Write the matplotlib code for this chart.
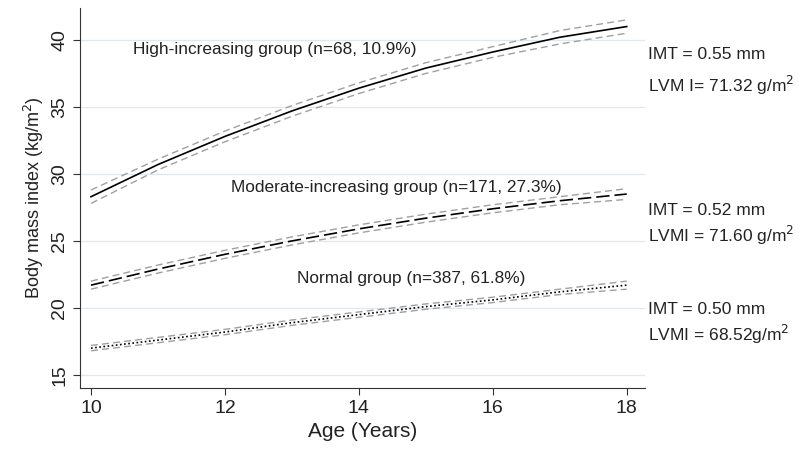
import numpy as np
import matplotlib.pyplot as plt

plt.rcParams['font.family'] = ['Liberation Sans', 'DejaVu Sans']

age = [10, 11, 12, 13, 14, 15, 16, 17, 18]

# Fitted trajectories
high = [28.3, 30.7, 32.8, 34.7, 36.4, 37.9, 39.1, 40.2, 41.0]
high_lo = [27.8, 30.3, 32.4, 34.3, 36.0, 37.5, 38.7, 39.7, 40.5]
high_hi = [28.8, 31.1, 33.2, 35.1, 36.8, 38.3, 39.5, 40.7, 41.5]

moderate = [21.7, 22.9, 24.0, 25.0, 25.9, 26.7, 27.4, 28.0, 28.5]
moderate_lo = [21.4, 22.6, 23.7, 24.7, 25.6, 26.4, 27.1, 27.7, 28.1]
moderate_hi = [22.0, 23.2, 24.3, 25.3, 26.2, 27.0, 27.7, 28.3, 28.9]

normal = [17.0, 17.6, 18.2, 18.9, 19.5, 20.1, 20.6, 21.2, 21.7]
normal_lo = [16.8, 17.4, 18.0, 18.7, 19.3, 19.9, 20.4, 21.0, 21.4]
normal_hi = [17.2, 17.8, 18.4, 19.1, 19.7, 20.3, 20.8, 21.4, 22.0]

group_labels = ["High-increasing group (n=68, 10.9%)",
                "Moderate-increasing group (n=171, 27.3%)",
                "Normal group (n=387, 61.8%)"]
side_labels = [("IMT = 0.55 mm", "LVM I= 71.32 g/m$^2$"),
               ("IMT = 0.52 mm", "LVMI = 71.60 g/m$^2$"),
               ("IMT = 0.50 mm", "LVMI = 68.52g/m$^2$")]

fig = plt.figure(figsize=(8, 4.58), dpi=100)
ax = fig.add_axes([0.1, 0.153, 0.706, 0.83])

for y in [15, 20, 25, 30, 35, 40]:
    ax.axhline(y, color='#dfe8ef', lw=0.9, zorder=0)

band = dict(color='#a0a0a0', lw=1.0, ls=(0, (5, 3)))
for lo, hi in [(high_lo, high_hi), (moderate_lo, moderate_hi), (normal_lo, normal_hi)]:
    ax.plot(age, lo, **band)
    ax.plot(age, hi, **band)

ax.plot(age, high, color='black', lw=1.2)
ax.plot(age, moderate, color='black', lw=1.2, ls=(0, (8, 3)))
ax.plot(age, normal, color='black', lw=1.2, ls=(0, (1, 1.5)))

ax.text(10.63, 39.25, group_labels[0], fontsize=12.4, va='center', color='#222222')
ax.text(12.09, 29.0, group_labels[1], fontsize=12.4, va='center', color='#222222')
ax.text(13.07, 22.2, group_labels[2], fontsize=12.4, va='center', color='#222222')

side_y = [(38.9, 36.6), (27.3, 25.4), (19.9, 18.0)]
for (t1, t2), (y1, y2) in zip(side_labels, side_y):
    ax.text(1.005, y1, t1, fontsize=12.5, va='center', color='#222222',
            transform=ax.get_yaxis_transform())
    ax.text(1.005, y2, t2, fontsize=12.5, va='center', color='#222222',
            transform=ax.get_yaxis_transform())

ax.set_xlim(9.836, 18.27)
ax.set_ylim(14.03, 42.4)
ax.set_xticks([10, 12, 14, 16, 18])
ax.set_yticks([15, 20, 25, 30, 35, 40])
ax.tick_params(axis='both', labelsize=14, direction='out', length=5, color='#333333',
               labelcolor='#222222')
for lab in ax.get_yticklabels():
    lab.set_rotation(90)
    lab.set_va('center')
ax.spines['top'].set_visible(False)
ax.spines['right'].set_visible(False)
ax.spines['left'].set_color('#333333')
ax.spines['bottom'].set_color('#333333')
ax.set_xlabel('Age (Years)', fontsize=15, color='#222222')
ax.set_ylabel('Body mass index (kg/m$^2$)', fontsize=13, color='#222222')

fig.savefig('out.png', dpi=100)
